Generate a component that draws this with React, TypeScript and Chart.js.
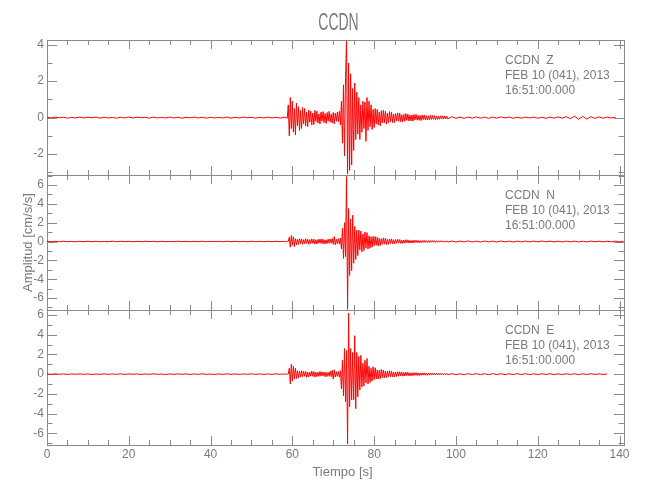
import React, { useEffect, useRef } from 'react';
import { Chart, registerables } from 'chart.js';

Chart.register(...registerables);

// ---------------- data ----------------
const chartTitle = 'CCDN';
const xTitle = 'Tiempo [s]';
const yTitle = 'Amplitud [cm/s/s]';

const xTickValues = [0, 20, 40, 60, 80, 100, 120, 140];
const xMin = 0;
const xMax = 141.1;

const zTickValues = [-2, 0, 2, 4];
const nTickValues = [-6, -4, -2, 0, 2, 4, 6];
const eTickValues = [-6, -4, -2, 0, 2, 4, 6];
const zRange = [-3.15, 4.26];
const nRange = [-7.27, 7.06];
const eRange = [-7.19, 6.51];

const stationLabels = ['CCDN  Z', 'CCDN  N', 'CCDN  E'];
const dateLabel = 'FEB 10 (041), 2013';
const timeLabel = '16:51:00.000';

// sampling of the three segments (start time, step in s)
const preStart = 0, preStep = 1;
const actStart = 58, actStep = 0.25;
const postStart = 99, postStep = 1;

// ---- Z component ----
const zPre = [
  0.02, -0.02, 0.03, -0.01, 0.02, -0.03, 0.01, -0.02, 0.03, -0.02,
  0.02, -0.01, 0.03, -0.03, 0.02, -0.02, 0.01, -0.03, 0.02, -0.02,
  0.03, -0.02, 0.02, -0.01, 0.02, -0.03, 0.03, -0.02, 0.01, -0.02,
  0.03, -0.02, 0.02, -0.03, 0.02, -0.01, 0.03, -0.02, 0.02, -0.03,
  0.02, -0.02, 0.01, -0.02, 0.03, -0.03, 0.02, -0.02, 0.03, -0.01,
  0.02, -0.03, 0.02, -0.02, 0.03, -0.02, 0.02, -0.03,
];
const zAct = [
  0.03, -0.02, 0.02, -0.04,
  0.7, -1.0, 1.1, -0.6,
  0.9, -0.8, 0.5, -0.95,
  0.8, -0.45, 0.6, -0.7,
  0.4, -0.6, 0.55, -0.35,
  0.5, -0.45, 0.3, -0.5,
  0.42, -0.25, 0.35, -0.4,
  0.25, -0.38, 0.4, -0.22,
  0.35, -0.3, 0.2, -0.35,
  0.3, -0.2, 0.33, -0.28,
  0.22, -0.32, 0.28, -0.2,
  0.34, -0.25, 0.2, -0.3,
  0.28, -0.35, 0.25, -0.2,
  0.3, -0.22, 0.35, -0.4,
  0.9, -1.4, 1.8, -2.1,
  2.2, 4.2, -3.1, 3.0,
  -2.9, 2.4, -2.6, 1.6,
  -1.8, 1.9, -1.2, 1.4,
  -0.9, 1.1, -1.2, 0.7,
  -0.8, 0.9, -0.6, 0.85,
  -1.3, 1.1, -0.7, 0.9,
  -0.5, 0.7, -0.65, 0.45,
  -0.55, 0.5, -0.35, 0.45,
  -0.4, 0.3, -0.45, 0.38,
  -0.3, 0.4, -0.28, 0.35,
  -0.36, 0.25, -0.3, 0.33,
  -0.22, 0.3, -0.27, 0.2,
  -0.28, 0.22, -0.18, 0.26,
  -0.2, 0.25, -0.22, 0.16,
  -0.24, 0.18, -0.2, 0.22,
  -0.15, 0.2, -0.18, 0.14,
  -0.18, 0.15, -0.2, 0.17,
  -0.13, 0.18, -0.14, 0.12,
  -0.15, 0.12, -0.16, 0.14,
  -0.11, 0.15, -0.12, 0.1,
  -0.13, 0.1, -0.12, 0.13,
  -0.1, 0.12, -0.09, 0.11,
  -0.12, 0.09, -0.1, 0.08,
  -0.09, 0.1, -0.08, 0.1,
  -0.08, 0.09, -0.07, 0.08,
  -0.07,
];
const zPost = [
  0.05, -0.04, 0.03, -0.04, 0.03, -0.03, 0.04, -0.03, 0.03, -0.04,
  0.03, -0.03, 0.04, -0.02, 0.03, -0.04, 0.02, -0.03, 0.03, -0.02,
  0.03, -0.03, 0.02, -0.04, 0.03, -0.03, 0.04, -0.03, 0.05, -0.06,
  0.08, -0.09, 0.07, -0.08, 0.05, -0.04, 0.04, -0.03, 0.03, -0.02,
  0.02,
];

// ---- N component ----
const nPre = [
  0.02, -0.03, 0.02, -0.02, 0.03, -0.02, 0.01, -0.03, 0.02, -0.02,
  0.03, -0.02, 0.02, -0.03, 0.01, -0.02, 0.03, -0.02, 0.02, -0.01,
  0.02, -0.03, 0.02, -0.02, 0.03, -0.01, 0.02, -0.03, 0.02, -0.02,
  0.01, -0.02, 0.03, -0.02, 0.02, -0.03, 0.02, -0.02, 0.03, -0.02,
  0.02, -0.01, 0.02, -0.03, 0.03, -0.02, 0.02, -0.02, 0.01, -0.03,
  0.03, -0.02, 0.02, -0.03, 0.02, -0.02, 0.03, -0.02,
];
const nAct = [
  0.02, -0.03, 0.02, -0.02,
  0.03, 0.45, -0.6, 0.64,
  -0.4, 0.5, -0.55, 0.3,
  -0.35, 0.25, -0.32, 0.3,
  -0.22, 0.28, -0.3, 0.2,
  -0.25, 0.3, -0.2, 0.24,
  -0.3, 0.2, -0.22, 0.28,
  -0.2, 0.25, -0.28, 0.18,
  -0.25, 0.22, -0.18, 0.26,
  -0.2, 0.28, -0.24, 0.2,
  -0.26, 0.18, -0.22, 0.25,
  -0.2, 0.26, -0.18, 0.32,
  -0.3, 0.52, -0.36, 0.25,
  -0.22, 0.3, -0.26, 0.35,
  -0.8, 1.4, -1.8, 2.0,
  -1.6, 6.9, -7.2, 3.5,
  -3.6, 2.4, -3.1, 2.8,
  -2.3, 1.6, -1.9, 1.2,
  -1.5, 1.2, -0.9, 1.1,
  -1.1, 0.8, -0.95, 1.0,
  -0.7, 0.95, -0.8, 0.6,
  -0.7, 0.5, -0.6, 0.55,
  -0.45, 0.52, -0.4, 0.45,
  -0.48, 0.35, -0.42, 0.3,
  -0.3, 0.38, -0.28, 0.34,
  -0.33, 0.24, -0.3, 0.27,
  -0.22, 0.28, -0.25, 0.2,
  -0.26, 0.2, -0.18, 0.23,
  -0.17, 0.22, -0.2, 0.15,
  -0.2, 0.16, -0.18, 0.19,
  -0.14, 0.18, -0.15, 0.13,
  -0.16, 0.12, -0.15, 0.14,
  -0.11, 0.14, -0.12, 0.1,
  -0.13, 0.1, -0.12, 0.11,
  -0.09, 0.12, -0.1, 0.08,
  -0.1, 0.09, -0.11, 0.1,
  -0.08, 0.1, -0.08, 0.09,
  -0.09, 0.07, -0.08, 0.08,
  -0.07, 0.08, -0.06, 0.07,
  -0.07, 0.06, -0.06, 0.07,
  -0.06,
];
const nPost = [
  0.05, -0.06, 0.05, -0.04, 0.06, -0.05, 0.04, -0.05, 0.05, -0.04,
  0.04, -0.05, 0.05, -0.04, 0.04, -0.05, 0.04, -0.04, 0.05, -0.04,
  0.04, -0.04, 0.05, -0.03, 0.04, -0.04, 0.03, -0.04, 0.04, -0.03,
  0.04, -0.04, 0.03, -0.04, 0.04, -0.03, 0.03, -0.04, 0.03, -0.03,
  0.04, -0.03, 0.03,
];

// ---- E component ----
const ePre = [
  0.02, -0.02, 0.03, -0.02, 0.02, -0.03, 0.02, -0.01, 0.03, -0.02,
  0.02, -0.03, 0.01, -0.02, 0.03, -0.02, 0.02, -0.02, 0.03, -0.03,
  0.02, -0.01, 0.02, -0.03, 0.02, -0.02, 0.03, -0.02, 0.01, -0.03,
  0.02, -0.02, 0.03, -0.01, 0.02, -0.03, 0.02, -0.02, 0.03, -0.02,
  0.01, -0.03, 0.02, -0.02, 0.03, -0.02, 0.02, -0.03, 0.02, -0.01,
  0.03, -0.02, 0.02, -0.03, 0.02, -0.02, 0.03, -0.02,
];
const eAct = [
  0.02, -0.02, 0.03, -0.02,
  0.03, 0.6, -1.0, 1.0,
  -0.7, 0.8, -0.5, 0.6,
  -0.45, 0.35, -0.4, 0.3,
  -0.3, 0.35, -0.25, 0.3,
  -0.22, 0.28, -0.32, 0.2,
  -0.28, 0.22, -0.2, 0.3,
  -0.22, 0.26, -0.3, 0.2,
  -0.25, 0.2, -0.22, 0.27,
  -0.2, 0.24, -0.18, 0.22,
  -0.26, 0.2, -0.24, 0.18,
  -0.22, 0.3, -0.25, 0.4,
  -0.5, 0.45, -0.3, 0.25,
  -0.22, 0.28, -0.3, 0.35,
  -1.5, 1.4, -2.2, 2.6,
  -2.8, 2.4, -7.1, 6.2,
  -3.3, 2.6, -2.6, 2.2,
  -2.6, 3.9, -3.5, 2.2,
  -2.3, 1.8, -1.6, 1.9,
  -1.3, 1.1, -1.2, 1.4,
  -0.9, 1.6, -1.0, 0.8,
  -0.85, 0.6, -0.7, 0.75,
  -0.55, 0.65, -0.5, 0.42,
  -0.5, 0.4, -0.45, 0.48,
  -0.35, 0.42, -0.38, 0.3,
  -0.36, 0.3, -0.28, 0.34,
  -0.25, 0.3, -0.28, 0.22,
  -0.27, 0.22, -0.24, 0.25,
  -0.2, 0.24, -0.18, 0.2,
  -0.21, 0.17, -0.19, 0.2,
  -0.15, 0.19, -0.17, 0.14,
  -0.17, 0.14, -0.15, 0.16,
  -0.12, 0.15, -0.14, 0.12,
  -0.14, 0.11, -0.12, 0.13,
  -0.1, 0.13, -0.11, 0.1,
  -0.11, 0.09, -0.1, 0.11,
  -0.09, 0.1, -0.09, 0.08,
  -0.09, 0.08, -0.08, 0.09,
  -0.07, 0.08, -0.07, 0.06,
  -0.07, 0.06, -0.06, 0.07,
  -0.06,
];
const ePost = [
  0.05, -0.05, 0.04, -0.06, 0.05, -0.04, 0.05, -0.05, 0.04, -0.05,
  0.05, -0.04, 0.04, -0.05, 0.04, -0.04, 0.05, -0.04, 0.04, -0.04,
  0.03, -0.04, 0.04, -0.03, 0.04, -0.04, 0.03, -0.04, 0.04, -0.03,
  0.03, -0.04, 0.03, -0.03, 0.04, -0.03, 0.03, -0.03, 0.02,
];

// ---------------- styling ----------------
const FONT = "'Liberation Sans', Arial, sans-serif";
const TEXT_COLOR = '#7a7a7a';
const AXIS_COLOR = '#8a8a8a';
const TRACE_COLOR = '#ff0000';

function buildSeries(pre: number[], act: number[], post: number[]) {
  const pts: { x: number; y: number }[] = [];
  pre.forEach((v, i) => pts.push({ x: preStart + i * preStep, y: v }));
  act.forEach((v, i) => pts.push({ x: actStart + i * actStep, y: v }));
  post.forEach((v, i) => pts.push({ x: postStart + i * postStep, y: v }));
  return pts;
}

const panels = [
  { id: 'yZ', ticks: zTickValues, label: stationLabels[0] },
  { id: 'yN', ticks: nTickValues, label: stationLabels[1] },
  { id: 'yE', ticks: eTickValues, label: stationLabels[2] },
];

const framePlugin = {
  id: 'seisFrame',
  beforeDatasetsDraw(chart: any) {
    const { ctx, chartArea } = chart;
    const xs = chart.scales.x;
    const L = Math.round(chartArea.left);
    const R = Math.round(chartArea.right);
    ctx.save();
    ctx.strokeStyle = AXIS_COLOR;
    ctx.lineWidth = 1;
    const line = (x1: number, y1: number, x2: number, y2: number) => {
      ctx.beginPath();
      ctx.moveTo(x1, y1);
      ctx.lineTo(x2, y2);
      ctx.stroke();
    };
    for (const p of panels) {
      const ys = chart.scales[p.id];
      const T = Math.round(ys.top);
      const B = Math.round(ys.bottom);
      ctx.strokeRect(L + 0.5, T + 0.5, R - L, B - T);
      for (let v = 0; v <= xs.max + 1e-9; v += 5) {
        const px = Math.round(xs.getPixelForValue(v)) + 0.5;
        const len = xTickValues.includes(v) ? 9 : 5;
        line(px, T, px, T + len);
        line(px, B, px, B - len);
      }
      for (let v = Math.ceil(ys.min); v <= Math.floor(ys.max); v++) {
        const py = Math.round(ys.getPixelForValue(v)) + 0.5;
        const len = p.ticks.includes(v) ? 10 : 5.5;
        line(L, py, L + len, py);
        line(R, py, R - len, py);
      }
    }
    ctx.restore();
  },
  afterDatasetsDraw(chart: any) {
    const { ctx, chartArea } = chart;
    ctx.save();
    ctx.fillStyle = TEXT_COLOR;
    // station / date / time labels
    ctx.font = `12px ${FONT}`;
    ctx.textAlign = 'left';
    ctx.textBaseline = 'middle';
    for (const p of panels) {
      const ys = chart.scales[p.id];
      const lines = [p.label, dateLabel, timeLabel];
      lines.forEach((t, i) => ctx.fillText(t, 505, ys.top + 21 + i * 15));
    }
    // x axis title
    ctx.font = `13px ${FONT}`;
    ctx.textAlign = 'center';
    ctx.fillText(xTitle, (chartArea.left + chartArea.right) / 2 + 7, 472);
    // main title (tall, narrow strokes)
    ctx.save();
    ctx.font = `14px ${FONT}`;
    ctx.textBaseline = 'alphabetic';
    ctx.translate((chartArea.left + chartArea.right) / 2 + 3, 30);
    ctx.scale(1, 1.7);
    ctx.fillText(chartTitle, 0, 0);
    ctx.restore();
    ctx.restore();
  },
};

function yScale(range: number[], ticks: number[], weight: number, withTitle: boolean) {
  return {
    type: 'linear',
    position: 'left',
    stack: 'panels',
    stackWeight: 1,
    weight,
    min: range[0],
    max: range[1],
    afterBuildTicks: (s: any) => {
      s.ticks = ticks.map((v) => ({ value: v }));
    },
    afterFit: (s: any) => {
      s.width = 47;
    },
    grid: { display: false, drawTicks: false },
    border: { display: false },
    ticks: {
      autoSkip: false,
      padding: 3,
      color: TEXT_COLOR,
      font: { family: FONT, size: 12 },
    },
    title: {
      display: withTitle,
      text: yTitle,
      color: TEXT_COLOR,
      font: { family: FONT, size: 13 },
      padding: { top: 21, bottom: 0 },
    },
  };
}

export default function App() {
  const ref = useRef<HTMLCanvasElement>(null);
  useEffect(() => {
    const prev = document.body.style.margin;
    document.body.style.margin = '0';
    const chart = new Chart(ref.current as HTMLCanvasElement, {
      type: 'line',
      data: {
        datasets: [
          { data: buildSeries(zPre, zAct, zPost), yAxisID: 'yZ', xAxisID: 'x', borderColor: TRACE_COLOR, borderWidth: 1, pointRadius: 0, tension: 0 },
          { data: buildSeries(nPre, nAct, nPost), yAxisID: 'yN', xAxisID: 'x', borderColor: TRACE_COLOR, borderWidth: 1, pointRadius: 0, tension: 0 },
          { data: buildSeries(ePre, eAct, ePost), yAxisID: 'yE', xAxisID: 'x', borderColor: TRACE_COLOR, borderWidth: 1, pointRadius: 0, tension: 0 },
        ],
      },
      options: {
        responsive: false,
        animation: false,
        devicePixelRatio: 1,
        events: [],
        layout: { padding: { left: 0, right: 26, top: 40, bottom: 0 }, autoPadding: false },
        plugins: {
          legend: { display: false },
          tooltip: { enabled: false },
          title: { display: false },
        },
        scales: {
          x: {
            type: 'linear',
            position: 'bottom',
            min: xMin,
            max: xMax,
            afterBuildTicks: (s: any) => {
              s.ticks = xTickValues.map((v) => ({ value: v }));
            },
            afterFit: (s: any) => {
              s.height = 55;
            },
            grid: { display: false, drawTicks: false },
            border: { display: false },
            ticks: {
              autoSkip: false,
              maxRotation: 0,
              padding: 2,
              color: TEXT_COLOR,
              font: { family: FONT, size: 12 },
            },
          },
          yE: yScale(eRange, eTickValues, 1, false),
          yN: yScale(nRange, nTickValues, 2, true),
          yZ: yScale(zRange, zTickValues, 3, false),
        } as any,
      },
      plugins: [framePlugin],
    } as any);
    return () => {
      chart.destroy();
      document.body.style.margin = prev;
    };
  }, []);
  return (
    <div style={{ width: 650, height: 500, background: '#ffffff' }}>
      <canvas ref={ref} width={650} height={500} style={{ display: 'block' }} />
    </div>
  );
}
